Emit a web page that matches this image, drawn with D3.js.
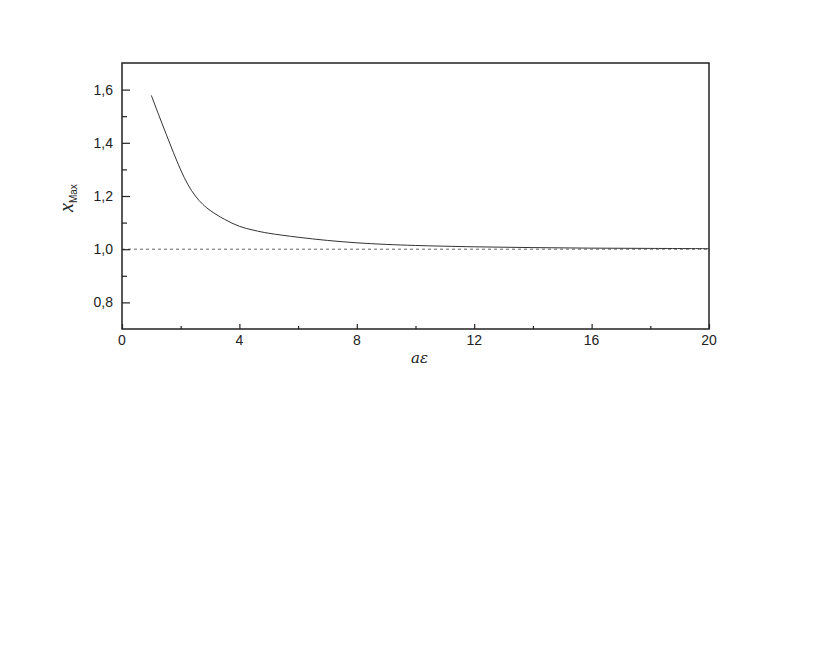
<!DOCTYPE html>
<html>
<head>
<meta charset="utf-8">
<script src="https://cdn.jsdelivr.net/npm/d3@7"></script>
<style>
body { margin: 0; background: #fff; }
svg { display: block; }
</style>
</head>
<body>
<svg id="chart" width="817" height="654"></svg>
<script>
const aeps = [1, 1.25, 1.5, 1.75, 2, 2.25, 2.5, 2.75, 3, 3.5, 4, 4.5, 5, 6, 7, 8, 9, 10, 12, 14, 16, 18, 20];
const xMax = [1.578, 1.505, 1.434, 1.364, 1.298, 1.242, 1.200, 1.169, 1.146, 1.112, 1.086, 1.071, 1.060, 1.045, 1.033, 1.024, 1.018, 1.014, 1.009, 1.006, 1.004, 1.003, 1.002];
const refLine = [1.0, 1.0];
const xTicks = [0, 4, 8, 12, 16, 20];
const xMinorTicks = [2, 6, 10, 14, 18];
const yTicks = [0.8, 1.0, 1.2, 1.4, 1.6];
const yMinorTicks = [0.9, 1.1, 1.3, 1.5];

const svg = d3.select("#chart");
const L = 122, R = 709, T = 63, B = 329;
const x = d3.scaleLinear().domain([0, 20]).range([L, R]);
const y = d3.scaleLinear().domain([0.7, 1.7]).range([B, T]);
const fmt = d => d3.format(".1f")(d).replace(".", ",");
const font = "Arial, 'Liberation Sans', sans-serif";

// dashed reference line
svg.append("line")
  .attr("x1", x(0)).attr("x2", x(20))
  .attr("y1", y(refLine[0])).attr("y2", y(refLine[1]))
  .attr("stroke", "#666").attr("stroke-width", 1)
  .attr("stroke-dasharray", "3,3");

// curve
const line = d3.line().x((d, i) => x(aeps[i])).y(d => y(d)).curve(d3.curveCatmullRom);
svg.append("path").datum(xMax)
  .attr("d", line).attr("fill", "none")
  .attr("stroke", "#333").attr("stroke-width", 1);

// x axis (inward ticks)
const xAxis = d3.axisTop(x).tickValues(xTicks).tickSize(5).tickFormat("");
const gx = svg.append("g").attr("transform", `translate(0,${B})`).call(xAxis);
gx.select(".domain").remove();
const xMinor = d3.axisTop(x).tickValues(xMinorTicks).tickSize(3).tickFormat("");
const gxm = svg.append("g").attr("transform", `translate(0,${B})`).call(xMinor);
gxm.select(".domain").remove();
svg.append("g").selectAll("text").data(xTicks).join("text")
  .attr("x", d => x(d)).attr("y", B + 16)
  .attr("text-anchor", "middle")
  .attr("font-family", font).attr("font-size", 14).attr("fill", "#222")
  .text(d => d);

// y axis (inward ticks)
const yAxis = d3.axisRight(y).tickValues(yTicks).tickSize(8).tickFormat("");
const gy = svg.append("g").attr("transform", `translate(${L},0)`).call(yAxis);
gy.select(".domain").remove();
const yMinor = d3.axisRight(y).tickValues(yMinorTicks).tickSize(5).tickFormat("");
const gym = svg.append("g").attr("transform", `translate(${L},0)`).call(yMinor);
gym.select(".domain").remove();
svg.selectAll(".tick line").attr("stroke", "#222").attr("stroke-width", 1.2);
svg.append("g").selectAll("text").data(yTicks).join("text")
  .attr("x", L - 9).attr("y", d => y(d) + 5)
  .attr("text-anchor", "end")
  .attr("font-family", font).attr("font-size", 14).attr("fill", "#222")
  .text(fmt);

// frame
svg.append("rect").attr("x", L).attr("y", T).attr("width", R - L).attr("height", B - T)
  .attr("fill", "none").attr("stroke", "#222").attr("stroke-width", 1.5);

// axis titles
svg.append("text")
  .attr("x", x(10) + 4).attr("y", 363)
  .attr("text-anchor", "middle")
  .attr("font-family", "'DejaVu Serif', 'Liberation Serif', serif")
  .attr("font-style", "italic").attr("font-size", 15).attr("fill", "#222")
  .text("aε");

const yl = svg.append("text")
  .attr("transform", "translate(73,212) rotate(-90)")
  .attr("text-anchor", "start")
  .attr("font-family", "'Liberation Serif', 'DejaVu Serif', serif")
  .attr("fill", "#222");
yl.append("tspan").attr("font-style", "italic").attr("font-size", 20).text("x");
yl.append("tspan").attr("font-size", 10).attr("dy", 4).attr("font-family", "'Liberation Sans Narrow', " + font).text("Max");
</script>
</body>
</html>
